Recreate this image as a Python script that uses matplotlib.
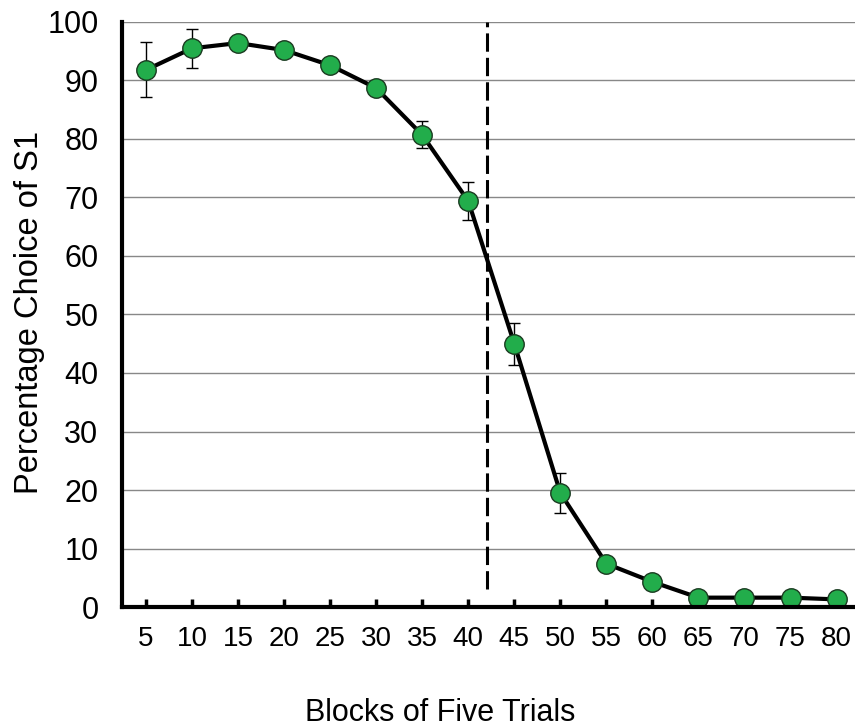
import numpy as np
import matplotlib.pyplot as plt

plt.rcParams['font.family'] = ['Liberation Sans', 'DejaVu Sans']

blocks = [5, 10, 15, 20, 25, 30, 35, 40, 45, 50, 55, 60, 65, 70, 75, 80]
pct_s1 = [91.8, 95.5, 96.4, 95.2, 92.6, 88.7, 80.7, 69.4, 45.0, 19.5, 7.4, 4.3, 1.6, 1.6, 1.6, 1.3]
sem = [4.7, 3.3, 0.8, 0.8, 0.8, 0.8, 2.3, 3.3, 3.6, 3.4, 0.8, 0.8, 0.5, 0.5, 0.5, 0.5]
reversal = 7.4   # dashed line position, in category units (between 40 and 45)

green = '#22ad4b'

fig = plt.figure(figsize=(8.55, 7.28), dpi=100)
ax = fig.add_axes([0.1427, 0.1662, 0.8573, 0.8036])

x = np.arange(len(blocks))
y = np.array(pct_s1)

ax.plot(x, y, color='black', lw=3, zorder=3)
ax.errorbar(x, y, yerr=sem, fmt='none', ecolor='black', elinewidth=1, capsize=4, capthick=1, zorder=2)
ax.plot(x, y, 'o', ms=14, mfc=green, mec='#1a3a20', mew=1, zorder=4)

ax.vlines(reversal, 3, 100, colors='black', lw=2.2, linestyles=(0, (6, 2)), zorder=2)

ax.set_xlim(-0.52, 15.4)
ax.set_ylim(0, 100)
ax.set_yticks(range(0, 101, 10))
ax.set_xticks(x)
ax.set_xticklabels([str(b) for b in blocks], fontsize=20)
ax.tick_params(axis='y', length=0, labelsize=22, pad=17)
ax.tick_params(axis='x', direction='in', length=6, width=2.5, pad=14)
ax.grid(axis='y', color='#888888', lw=1)
ax.set_axisbelow(True)
for s in ['top', 'right']:
    ax.spines[s].set_visible(False)
for s in ['left', 'bottom']:
    ax.spines[s].set_linewidth(3)
    ax.spines[s].set_zorder(5)

fig.text(30 / 855, 1 - 312 / 728, 'Percentage Choice of S1', fontsize=23.5, rotation=90,
         ha='center', va='center')
fig.text(440 / 855, 1 - 713 / 728, 'Blocks of Five Trials', fontsize=22, ha='center', va='center')

fig.savefig('out.png', dpi=100)
